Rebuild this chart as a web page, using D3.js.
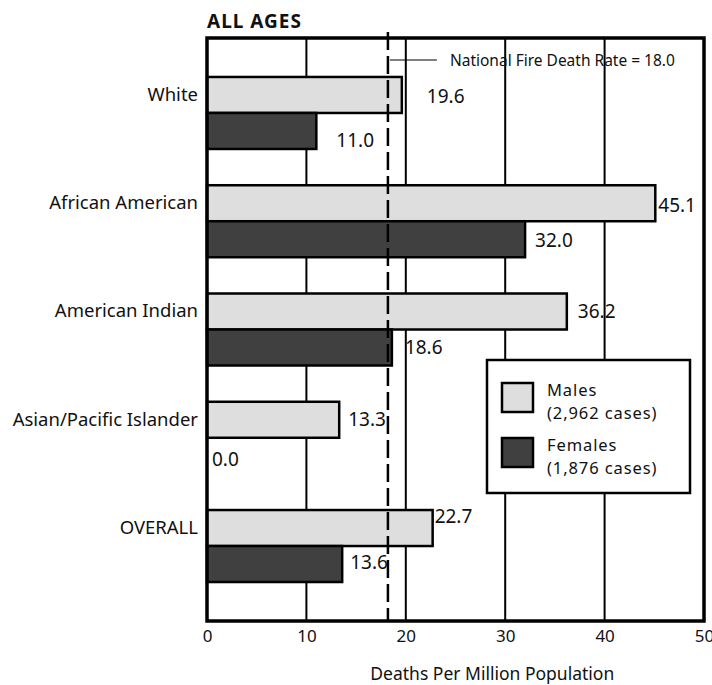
<!DOCTYPE html>
<html>
<head>
<meta charset="utf-8">
<script src="https://cdn.jsdelivr.net/npm/d3@7"></script>
<style>
  body { margin: 0; background: #fff; }
  svg text { font-family: "Noto Sans", "DejaVu Sans", sans-serif; fill: #111; }
</style>
</head>
<body>
<div id="chart"></div>
<script>
// data
var groups = ['White', 'African American', 'American Indian', 'Asian/Pacific Islander', 'OVERALL'];
var males = [19.6, 45.1, 36.2, 13.3, 22.7];
var females = [11.0, 32.0, 18.6, 0.0, 13.6];
var xTicks = [0, 10, 20, 30, 40, 50];
var nationalRate = 18.0;
var legendLabels = [['Males', '(2,962 cases)'], ['Females', '(1,876 cases)']];

// hand placement of value labels, as in the original [dx, dy]
var maleNudge = [[25, 1], [3, 2], [11, 0], [9, -1], [2, -12]];
var femaleNudge = [[20, 9], [10, 1], [13, 0], [5, 3], [8, -2]];

var width = 712,
    height = 685;

var margin = {left: 207, right: 8, top: 38, bottom: 64};

var maleFill = '#dedede',
    femaleFill = '#404040';

var svg = d3.select('#chart').append('svg')
    .attr('width', width)
    .attr('height', height);

var x = d3.scaleLinear()
    .domain([0, 50])
    .range([margin.left, width - margin.right]);

var y = d3.scaleBand()
    .domain(groups)
    .range([margin.top, height - margin.bottom])
    .paddingInner(0.335)
    .paddingOuter(0.36);

var half = y.bandwidth() / 2;

//grid lines behind bars
svg.append('g')
    .selectAll('line')
    .data(xTicks.slice(1, -1))
  .enter().append('line')
    .attr('x1', function(d) { return x(d); })
    .attr('x2', function(d) { return x(d); })
    .attr('y1', margin.top)
    .attr('y2', height - margin.bottom)
    .attr('stroke', '#000')
    .attr('stroke-width', 2);

//bars
var rows = groups.map(function(g, i) {
    return {group: g, male: males[i], female: females[i], mn: maleNudge[i], fn: femaleNudge[i]};
});

var bars = svg.append('g');

bars.selectAll('.male')
    .data(rows)
  .enter().append('rect')
    .attr('class', 'male')
    .attr('x', x(0))
    .attr('y', function(d) { return y(d.group); })
    .attr('width', function(d) { return x(d.male) - x(0); })
    .attr('height', half)
    .attr('fill', maleFill)
    .attr('stroke', '#000')
    .attr('stroke-width', 2.5);

bars.selectAll('.female')
    .data(rows.filter(function(d) { return d.female > 0; }))
  .enter().append('rect')
    .attr('class', 'female')
    .attr('x', x(0))
    .attr('y', function(d) { return y(d.group) + half; })
    .attr('width', function(d) { return x(d.female) - x(0); })
    .attr('height', half)
    .attr('fill', femaleFill)
    .attr('stroke', '#000')
    .attr('stroke-width', 2.5);

//value labels
var labels = svg.append('g')
    .style('font-size', '19px');

labels.selectAll('.mlab')
    .data(rows)
  .enter().append('text')
    .attr('x', function(d) { return x(d.male) + d.mn[0]; })
    .attr('y', function(d) { return y(d.group) + half / 2 + d.mn[1]; })
    .attr('dy', '0.36em')
    .text(function(d) { return d.male.toFixed(1); });

labels.selectAll('.flab')
    .data(rows)
  .enter().append('text')
    .attr('x', function(d) { return x(d.female) + d.fn[0]; })
    .attr('y', function(d) { return y(d.group) + half * 1.5 + d.fn[1]; })
    .attr('dy', '0.36em')
    .text(function(d) { return d.female.toFixed(1); });

//national rate dashed line
svg.append('line')
    .attr('x1', x(nationalRate) + 2)
    .attr('x2', x(nationalRate) + 2)
    .attr('y1', margin.top - 6)
    .attr('y2', height - margin.bottom)
    .attr('stroke', '#000')
    .attr('stroke-width', 2.5)
    .attr('stroke-dasharray', '18,6');

svg.append('line')
    .attr('x1', x(nationalRate) + 4)
    .attr('x2', x(nationalRate) + 51)
    .attr('y1', 60)
    .attr('y2', 60)
    .attr('stroke', '#000')
    .attr('stroke-width', 1);

svg.append('text')
    .attr('x', x(nationalRate) + 64)
    .attr('y', 66)
    .style('font-size', '15.5px')
    .text('National Fire Death Rate = ' + nationalRate.toFixed(1));

//frame
svg.append('rect')
    .attr('x', margin.left)
    .attr('y', margin.top)
    .attr('width', width - margin.right - margin.left)
    .attr('height', height - margin.bottom - margin.top)
    .attr('fill', 'none')
    .attr('stroke', '#000')
    .attr('stroke-width', 3.5);

//axes
var xAxis = svg.append('g')
    .attr('transform', 'translate(0,' + (height - margin.bottom) + ')')
    .call(d3.axisBottom(x).tickValues(xTicks).tickSize(0).tickPadding(9));
xAxis.select('.domain').remove();
xAxis.selectAll('text')
    .style('font-size', '17px')
    .attr('font-family', null);

var yAxis = svg.append('g')
    .attr('transform', 'translate(' + margin.left + ',0)')
    .call(d3.axisLeft(y).tickSize(0).tickPadding(9));
yAxis.select('.domain').remove();
yAxis.selectAll('.tick')
    .attr('transform', function(d) { return 'translate(0,' + (y(d) + half / 2) + ')'; });
yAxis.selectAll('text')
    .style('font-size', '18.5px')
    .attr('font-family', null);

svg.append('text')
    .attr('x', x(28.7))
    .attr('y', 680)
    .attr('text-anchor', 'middle')
    .style('font-size', '17.5px')
    .text('Deaths Per Million Population');

svg.append('text')
    .attr('x', margin.left)
    .attr('y', 28)
    .style('font-size', '19px')
    .style('font-weight', 'bold')
    .style('letter-spacing', '1px')
    .text('ALL AGES');

//legend
var legend = svg.append('g')
    .attr('transform', 'translate(487,360)');

legend.append('rect')
    .attr('width', 203)
    .attr('height', 133)
    .attr('fill', '#fff')
    .attr('stroke', '#000')
    .attr('stroke-width', 2.5);

var items = legend.selectAll('.item')
    .data(legendLabels)
  .enter().append('g')
    .attr('transform', function(d, i) { return 'translate(15,' + (23 + i * 55) + ')'; });

items.append('rect')
    .attr('width', 31)
    .attr('height', 29)
    .attr('fill', function(d, i) { return i === 0 ? maleFill : femaleFill; })
    .attr('stroke', '#000')
    .attr('stroke-width', 2.5);

items.append('text')
    .attr('x', 45)
    .attr('y', 13)
    .style('font-size', '16.5px')
    .style('letter-spacing', '0.9px')
    .text(function(d) { return d[0]; });

items.append('text')
    .attr('x', 45)
    .attr('y', 36)
    .style('font-size', '16.5px')
    .style('letter-spacing', '0.9px')
    .text(function(d) { return d[1]; });
</script>
</body>
</html>
